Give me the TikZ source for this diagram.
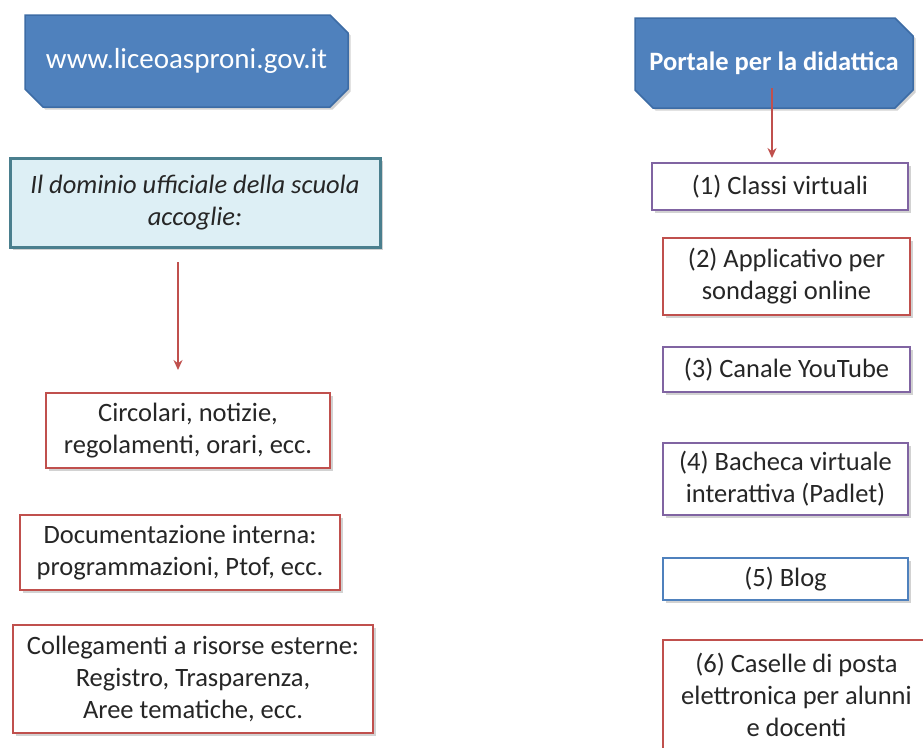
\documentclass[tikz,border=0pt]{standalone}
\usepackage{fontspec}
\setmainfont{Carlito}
\usetikzlibrary{shapes.misc, shadows, arrows.meta}

\definecolor{officeblue}{HTML}{4F81BD}
\definecolor{officeblueline}{HTML}{3D6CA5}
\definecolor{officered}{HTML}{C0504D}
\definecolor{officepurple}{HTML}{8064A2}
\definecolor{paleaqua}{HTML}{DDEFF5}
\definecolor{tealline}{HTML}{4A7F8E}

\begin{document}
\begin{tikzpicture}[x=1pt, y=-1pt, inner sep=0, outer sep=0,
  bodytext/.style={font=\fontsize{26.5}{32}\selectfont, text=black!85, align=center},
  softshadow/.style={drop shadow={shadow xshift=2.5pt, shadow yshift=-2.5pt, opacity=0.35}},
  header/.style={chamfered rectangle,
    chamfered rectangle corners={north east, south west, south east},
    chamfered rectangle sep=9pt,
    fill=officeblue, draw=officeblueline, line width=1.5pt, text=white, softshadow},
  item/.style={rectangle, bodytext, fill=white, line width=2pt, softshadow},
  redbox/.style={item, draw=officered},
  purplebox/.style={item, draw=officepurple},
  bluebox/.style={item, draw=officeblue},
  redarrow/.style={draw=officered, line width=1.5pt, -{Stealth[length=10pt, width=9pt]}}]

  \useasboundingbox (0, 0) rectangle (923, 747);
  \fill[white] (0, 0) rectangle (923, 747);
  \clip (0, 0) rectangle (923, 747);

  % headers
  \node[header, minimum width=323pt, minimum height=92pt,
    font=\fontsize{29}{34}\selectfont] (site) at (186.5, 61) {\raisebox{6pt}{www.liceoasproni.gov.it}};
  \node[header, minimum width=278pt, minimum height=90pt,
    font=\bfseries\fontsize{26.5}{32}\selectfont] (portal) at (774, 63) {Portale per la didattica};

  % left
  \node[item, fill=paleaqua, draw=tealline, line width=3pt,
    minimum width=370pt, minimum height=89pt,
    font=\itshape\fontsize{26.5}{32}\selectfont] (dom) at (195, 202.5) {Il dominio ufficiale della scuola\\accoglie:};

  \node[redbox, minimum width=284pt, minimum height=75pt] (circ) at (188, 430.5) {Circolari, notizie,\\regolamenti, orari, ecc.};
  \node[redbox, minimum width=320pt, minimum height=75pt] (docs) at (180, 552.5) {Documentazione interna:\\programmazioni, Ptof, ecc.};
  \node[redbox, minimum width=360pt, minimum height=108pt] (links) at (193, 679) {Collegamenti a risorse esterne:\\Registro, Trasparenza,\\Aree tematiche, ecc.};

  \coordinate (domfoot) at ([xshift=-17pt, yshift=-15pt]dom.south);
  \coordinate (circtop) at ([yshift=23pt]circ.north);
  \draw[redarrow] (domfoot) -- (domfoot |- circtop);

  % right
  \node[purplebox, minimum width=256pt, minimum height=47pt] (classi) at (780, 186.5) {(1) Classi virtuali};
  \node[redbox, minimum width=247pt, minimum height=77pt] (sondaggi) at (786.5, 276.5) {(2) Applicativo per\\sondaggi online};
  \node[purplebox, minimum width=247pt, minimum height=45pt] (youtube) at (786.5, 369.5) {(3) Canale YouTube};
  \node[purplebox, minimum width=245pt, minimum height=72pt] (padlet) at (785.5, 479) {(4) Bacheca virtuale\\interattiva (Padlet)};
  \node[bluebox, minimum width=245pt, minimum height=42pt] (blog) at (785.5, 579) {(5) Blog};
  \node[redbox, minimum width=267pt, minimum height=110pt] (posta) at (796.5, 695) {(6) Caselle di posta\\elettronica per alunni\\e docenti};

  \coordinate (portfoot) at ([xshift=-2pt, yshift=-25pt]portal.center);
  \coordinate (classitop) at ([yshift=5pt]classi.north);
  \draw[redarrow] (portfoot) -- (portfoot |- classitop);
\end{tikzpicture}
\end{document}
